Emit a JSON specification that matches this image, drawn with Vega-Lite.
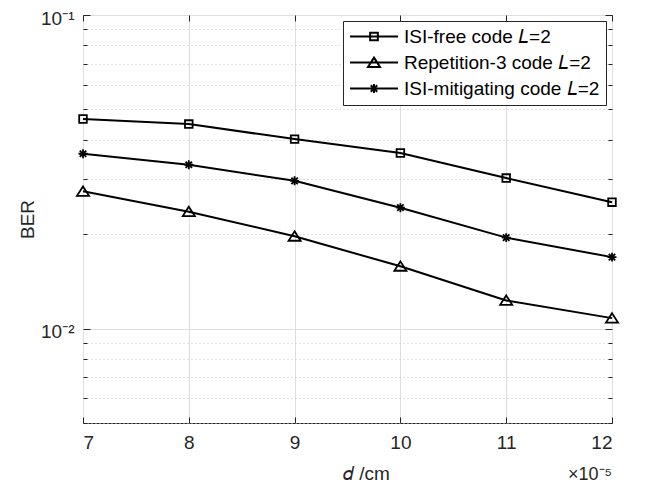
{
  "$schema": "https://vega.github.io/schema/vega-lite/v6.json",
  "width": 529,
  "height": 408,
  "autosize": "none",
  "padding": {"left": 83, "top": 15, "right": 35, "bottom": 62},
  "background": "white",
  "config": {
    "font": "Liberation Sans",
    "view": {"stroke": "#262626", "strokeWidth": 1},
    "axis": {
      "domain": false,
      "labelFont": "Liberation Sans",
      "labelFontSize": 19,
      "labelColor": "#262626",
      "titleFont": "Liberation Sans",
      "titleFontSize": 19,
      "titleFontWeight": "normal",
      "titleColor": "#262626",
      "tickColor": "#262626",
      "tickWidth": 1
    },
    "legend": {
      "labelFont": "Liberation Sans",
      "labelFontSize": 19,
      "labelColor": "black",
      "labelLimit": 400,
      "strokeColor": "#262626",
      "fillColor": "white",
      "padding": 6,
      "rowPadding": 6,
      "labelOffset": 5,
      "symbolStrokeWidth": 2,
      "symbolStrokeColor": "black",
      "symbolFillColor": "transparent",
      "orient": "top-right",
      "offset": 6
    }
  },
  "title": {
    "text": "×10⁻⁵",
    "orient": "bottom",
    "anchor": "end",
    "frame": "group",
    "fontSize": 18,
    "fontWeight": "normal",
    "font": "Liberation Sans",
    "color": "#262626",
    "offset": -17
  },
  "data": {
    "values": [
      {"d": 7, "ber": 0.0466, "code": "free", "name": "ISI-free code 𝐿=2"},
      {"d": 8, "ber": 0.0449, "code": "free", "name": "ISI-free code 𝐿=2"},
      {"d": 9, "ber": 0.0402, "code": "free", "name": "ISI-free code 𝐿=2"},
      {"d": 10, "ber": 0.0363, "code": "free", "name": "ISI-free code 𝐿=2"},
      {"d": 11, "ber": 0.0302, "code": "free", "name": "ISI-free code 𝐿=2"},
      {"d": 12, "ber": 0.0253, "code": "free", "name": "ISI-free code 𝐿=2"},
      {"d": 7, "ber": 0.0274, "code": "rep", "name": "Repetition-3 code 𝐿=2"},
      {"d": 8, "ber": 0.0236, "code": "rep", "name": "Repetition-3 code 𝐿=2"},
      {"d": 9, "ber": 0.0197, "code": "rep", "name": "Repetition-3 code 𝐿=2"},
      {"d": 10, "ber": 0.0158, "code": "rep", "name": "Repetition-3 code 𝐿=2"},
      {"d": 11, "ber": 0.0123, "code": "rep", "name": "Repetition-3 code 𝐿=2"},
      {"d": 12, "ber": 0.0108, "code": "rep", "name": "Repetition-3 code 𝐿=2"},
      {"d": 7, "ber": 0.0361, "code": "mit", "name": "ISI-mitigating code 𝐿=2"},
      {"d": 8, "ber": 0.0333, "code": "mit", "name": "ISI-mitigating code 𝐿=2"},
      {"d": 9, "ber": 0.0296, "code": "mit", "name": "ISI-mitigating code 𝐿=2"},
      {"d": 10, "ber": 0.0243, "code": "mit", "name": "ISI-mitigating code 𝐿=2"},
      {"d": 11, "ber": 0.0195, "code": "mit", "name": "ISI-mitigating code 𝐿=2"},
      {"d": 12, "ber": 0.0169, "code": "mit", "name": "ISI-mitigating code 𝐿=2"}
    ]
  },
  "layer": [
    {
      "mark": {"type": "line", "color": "black", "strokeWidth": 2},
      "encoding": {
        "x": {
          "field": "d",
          "type": "quantitative",
          "scale": {"domain": [7, 12], "nice": false, "zero": false},
          "axis": {
            "orient": "bottom",
            "values": [7, 8, 9, 10, 11, 12],
            "format": "d",
            "grid": true,
            "gridColor": "#dedede",
            "tickSize": -6,
            "labelPadding": 16,
            "title": "𝑑 /cm",
            "titleX": 283,
            "titlePadding": 12
          }
        },
        "y": {
          "field": "ber",
          "type": "quantitative",
          "scale": {"type": "log", "domain": [0.005, 0.1], "nice": false},
          "axis": {
            "orient": "left",
            "values": [0.005, 0.006, 0.007, 0.008, 0.009, 0.01, 0.02, 0.03, 0.04, 0.05, 0.06, 0.07, 0.08, 0.09, 0.1],
            "grid": true,
            "gridColor": {"condition": {"test": "datum.value === 0.01 || datum.value === 0.1", "value": "#dedede"}, "value": "#c4c4c4"},
            "gridDash": {"condition": {"test": "datum.value === 0.01 || datum.value === 0.1", "value": []}, "value": [1, 3]},
            "tickSize": {"condition": {"test": "datum.value === 0.01 || datum.value === 0.1", "value": -7}, "value": -4},
            "labelExpr": "datum.value === 0.01 ? '10⁻²' : datum.value === 0.1 ? '10⁻¹' : ''",
            "labelOverlap": false,
            "labelPadding": 16,
            "labelOffset": 3,
            "title": "BER",
            "titlePadding": 3
          }
        },
        "detail": {"field": "code"}
      }
    },
    {
      "mark": {"type": "point", "filled": false, "strokeWidth": 1.8, "size": 80, "opacity": 1},
      "encoding": {
        "x": {
          "field": "d",
          "type": "quantitative",
          "axis": {"orient": "top", "values": [7, 8, 9, 10, 11, 12], "labels": false, "grid": false, "tickSize": -6, "title": null}
        },
        "y": {
          "field": "ber",
          "type": "quantitative",
          "axis": {
            "orient": "right",
            "values": [0.005, 0.006, 0.007, 0.008, 0.009, 0.01, 0.02, 0.03, 0.04, 0.05, 0.06, 0.07, 0.08, 0.09, 0.1],
            "labels": false,
            "grid": false,
            "tickSize": {"condition": {"test": "datum.value === 0.01 || datum.value === 0.1", "value": -7}, "value": -4},
            "title": null
          }
        },
        "shape": {
          "field": "code",
          "type": "nominal",
          "legend": null,
          "scale": {
            "domain": ["free", "rep", "mit"],
            "range": [
              "M-0.85,-0.85H0.85V0.85H-0.85Z",
              "M0,-1.1L1.35,1L-1.35,1Z",
              "M0,-1V1M-1,0H1M-0.72,-0.72L0.72,0.72M-0.72,0.72L0.72,-0.72"
            ]
          }
        },
        "color": {
          "field": "name",
          "type": "nominal",
          "scale": {
            "domain": ["ISI-free code 𝐿=2", "Repetition-3 code 𝐿=2", "ISI-mitigating code 𝐿=2"],
            "range": ["black", "black", "black"]
          },
          "legend": {
            "title": null,
            "symbolSize": 2304,
            "clipHeight": 19,
            "symbolType": {"expr": "datum.value === 'ISI-free code 𝐿=2' ? 'M-1,0H1M-0.16,-0.16H0.16V0.16H-0.16Z' : datum.value === 'Repetition-3 code 𝐿=2' ? 'M-1,0H1M0,-0.204L0.25,0.1875L-0.25,0.1875Z' : 'M-1,0H1M0,-0.19V0.19M-0.135,-0.135L0.135,0.135M-0.135,0.135L0.135,-0.135'"},
            "encode": {
              "symbols": {
                "shape": {
                  "condition": [
                    {"test": "datum.value === 'ISI-free code 𝐿=2'", "value": "M-1,0H1M-0.16,-0.16H0.16V0.16H-0.16Z"},
                    {"test": "datum.value === 'Repetition-3 code 𝐿=2'", "value": "M-1,0H1M0,-0.204L0.25,0.1875L-0.25,0.1875Z"}
                  ],
                  "value": "M-1,0H1M0,-0.19V0.19M-0.135,-0.135L0.135,0.135M-0.135,0.135L0.135,-0.135"
                },
                "size": {"value": 2304},
                "strokeWidth": {"value": 2},
                "fill": {"value": "transparent"}
              }
            }
          }
        }
      }
    }
  ]
}
